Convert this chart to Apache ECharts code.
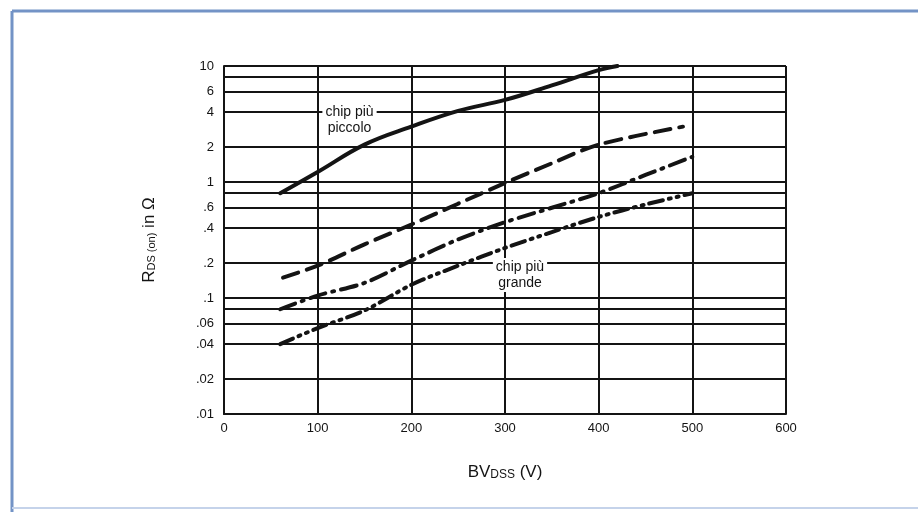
<!DOCTYPE html>
<html>
<head>
<meta charset="utf-8">
<script src="https://cdn.jsdelivr.net/npm/echarts@6/dist/echarts.min.js"></script>
<style>
  html, body { margin: 0; padding: 0; background: #fff; }
  #chart { width: 918px; height: 512px; }
</style>
</head>
<body>
<div id="chart"></div>
<script>
// curve values (BVdss in V, Rds(on) in ohm)
const bvSmall = [60, 100, 150, 200, 250, 300, 350, 400, 420];
const rSmall = [0.8, 1.22, 2.1, 3.0, 4.1, 5.1, 6.8, 9.2, 10];

const bvDash = [63, 100, 150, 200, 250, 300, 350, 400, 490];
const rDash = [0.15, 0.19, 0.29, 0.43, 0.65, 0.98, 1.45, 2.1, 3.0];

const bvDashDot = [60, 100, 150, 200, 250, 300, 350, 400, 450, 500];
const rDashDot = [0.08, 0.105, 0.135, 0.21, 0.32, 0.45, 0.6, 0.8, 1.15, 1.65];

const bvLarge = [60, 100, 150, 200, 250, 300, 350, 400, 450, 500];
const rLarge = [0.04, 0.055, 0.078, 0.13, 0.19, 0.27, 0.37, 0.5, 0.64, 0.8];

// extra horizontal rulings between the decades, with their labels
const minorLines = [0.02, 0.04, 0.06, 0.08, 0.2, 0.4, 0.6, 0.8, 2, 4, 6, 8];
const minorLabels = ['.02', '.04', '.06', '', '.2', '.4', '.6', '', '2', '4', '6', ''];

const decadeLabels = { 0.01: '.01', 0.1: '.1', 1: '1', 10: '10' };

const noteSmall = { text: 'chip più\npiccolo', bv: 134, r: 3.43 };
const noteLarge = { text: 'chip più\ngrande', bv: 316, r: 0.158 };

const FONT = 'Liberation Sans';
const INK = '#141414';

const pairs = (xs, ys) => xs.map((x, i) => [x, ys[i]]);

const chart = echarts.init(document.getElementById('chart'));

const noteLabel = {
    show: true,
    position: 'inside',
    color: INK,
    fontFamily: FONT,
    fontSize: 14,
    lineHeight: 16,
    backgroundColor: '#fff',
    padding: [1, 3]
};

const option = {
    animation: false,
    textStyle: { fontFamily: FONT },
    graphic: [
        { type: 'line', shape: { x1: 12, y1: 11, x2: 12, y2: 512 }, style: { stroke: '#7393c6', lineWidth: 3 } },
        { type: 'line', shape: { x1: 12, y1: 11, x2: 918, y2: 11 }, style: { stroke: '#7393c6', lineWidth: 3 } },
        { type: 'line', shape: { x1: 12, y1: 508, x2: 918, y2: 508 }, style: { stroke: '#c5d3ea', lineWidth: 2 } }
    ],
    grid: { left: 224, right: 132, top: 66, bottom: 98 },
    xAxis: {
        type: 'value',
        min: 0,
        max: 600,
        interval: 100,
        name: '{big|BV}{small|DSS}{big| (V)}',
        nameLocation: 'middle',
        nameGap: 50,
        nameTextStyle: {
            rich: {
                big: { fontSize: 17, color: INK, fontFamily: FONT },
                small: { fontSize: 12, color: INK, fontFamily: FONT, padding: [4, 0, 0, 0] }
            }
        },
        axisLine: { lineStyle: { color: INK, width: 2 } },
        axisTick: { show: false },
        axisLabel: { color: INK, fontSize: 13, margin: 8 },
        splitLine: { show: true, lineStyle: { color: INK, width: 2 } }
    },
    yAxis: {
        type: 'log',
        logBase: 10,
        min: 0.01,
        max: 10,
        name: '{big|R}{small|DS (on)}{big| in Ω}',
        nameLocation: 'middle',
        nameGap: 66,
        nameTextStyle: {
            rich: {
                big: { fontSize: 17, color: INK, fontFamily: FONT },
                small: { fontSize: 11, color: INK, fontFamily: FONT, padding: [4, 0, 0, 0] }
            }
        },
        axisLine: { show: true, lineStyle: { color: INK, width: 2 } },
        axisTick: { show: false },
        axisLabel: {
            color: INK,
            fontSize: 13,
            margin: 10,
            formatter: v => decadeLabels[+v.toPrecision(3)] ?? ''
        },
        splitLine: { show: true, lineStyle: { color: INK, width: 2 } }
    },
    series: [
        {
            name: 'piccolo',
            type: 'line',
            data: pairs(bvSmall, rSmall),
            smooth: 0.4,
            symbol: 'none',
            lineStyle: { color: INK, width: 4, cap: 'round' },
            markLine: {
                silent: true,
                symbol: 'none',
                animation: false,
                lineStyle: { color: INK, width: 2, type: 'solid' },
                label: {
                    position: 'start',
                    distance: 10,
                    color: INK,
                    fontSize: 13,
                    fontFamily: FONT,
                    formatter: p => minorLabels[minorLines.indexOf(p.value)]
                },
                data: minorLines.map(v => ({ yAxis: v }))
            },
            markPoint: {
                silent: true,
                symbol: 'rect',
                symbolSize: 1,
                itemStyle: { color: 'rgba(0,0,0,0)' },
                label: noteLabel,
                data: [
                    { coord: [noteSmall.bv, noteSmall.r], label: { formatter: noteSmall.text } },
                    { coord: [noteLarge.bv, noteLarge.r], label: { formatter: noteLarge.text } }
                ]
            },
            z: 5
        },
        {
            name: 'dash',
            type: 'line',
            data: pairs(bvDash, rDash),
            smooth: 0.3,
            symbol: 'none',
            lineStyle: { color: INK, width: 4, type: [16, 9], cap: 'round' },
            z: 4
        },
        {
            name: 'dashdot',
            type: 'line',
            data: pairs(bvDashDot, rDashDot),
            smooth: 0.3,
            symbol: 'none',
            lineStyle: { color: INK, width: 4, type: [16, 7, 2, 7], cap: 'round' },
            z: 4
        },
        {
            name: 'grande',
            type: 'line',
            data: pairs(bvLarge, rLarge),
            smooth: 0.3,
            symbol: 'none',
            lineStyle: { color: INK, width: 4, type: [14, 6, 2, 6, 2, 6], cap: 'round' },
            z: 4
        }
    ]
};

chart.setOption(option);
</script>
</body>
</html>
